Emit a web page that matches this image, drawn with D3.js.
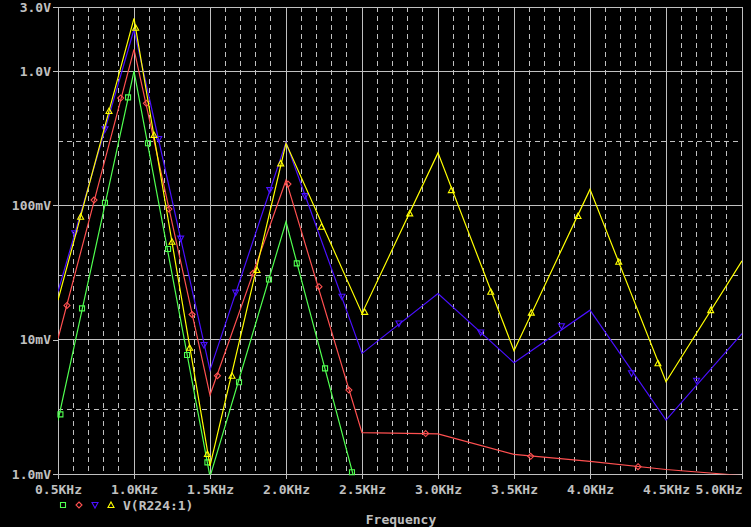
<!DOCTYPE html>
<html>
<head>
<meta charset="utf-8">
<script src="https://cdn.jsdelivr.net/npm/d3@7"></script>
<style>
  html, body { margin: 0; padding: 0; background: #000; }
  svg { display: block; }
  text { font-family: "DejaVu Sans Mono", monospace; font-weight: bold; font-size: 13px; fill: #c0c0c0; }
</style>
</head>
<body>
<svg id="chart" width="751" height="527"></svg>
<script>
// ---- data (frequency in kHz, voltage in mV) ----
const freqs = [0.5, 1.0, 1.5, 2.0, 2.5, 3.0, 3.5, 4.0, 4.5, 5.0];
const greenV  = [2.5, 1000, 0.955, 75.5, 0.556, null, null, null, null, null];
const redV    = [10.2, 1450, 3.87, 154, 2.03, 1.99, 1.40, 1.24, 1.08, 0.975];
const blueV   = [22.8, 2040, 5.94, 295, 7.91, 22.1, 6.74, 16.6, 2.52, 11.1];
const yellowV = [19.7, 2470, 1.15, 290, 15.7, 246, 8.28, 131.6, 4.86, 38.7];

const greenMarkF  = [0.516, 0.658, 0.809, 0.961, 1.092, 1.224, 1.349, 1.483, 1.691, 1.888, 2.071, 2.257, 2.434];
const greenMarkV  = [2.78, 17.1, 104.6, 637, 290, 47.3, 7.69, 1.22, 4.82, 28.1, 37.0, 6.12, 1.03];
const redMarkF    = [0.559, 0.737, 0.9125, 1.0816, 1.230, 1.382, 1.549, 1.783, 2.013, 2.217, 2.414, 2.919, 3.61, 4.316];
const redMarkV    = [18.0, 109.6, 630, 575, 93.9, 15.4, 5.39, 31.2, 144, 24.8, 4.22, 2.0, 1.355, 1.133];
const blueMarkF   = [0.610, 0.809, 1.1625, 1.307, 1.4605, 1.669, 1.893, 2.125, 2.368, 2.743, 3.281, 3.8125, 4.273, 4.701];
const blueMarkV   = [61.9, 368, 312, 56.6, 9.12, 22.4, 130, 117.3, 20.9, 13.2, 11.3, 12.6, 5.62, 4.95];
const yellowMarkF = [0.649, 0.8355, 1.011, 1.1316, 1.25, 1.366, 1.483, 1.6447, 1.809, 1.965, 2.233, 2.518, 2.814, 3.088, 3.347, 3.614, 3.921, 4.189, 4.447, 4.794];
const yellowMarkV = [82.3, 504, 2100, 334, 53.6, 8.71, 1.41, 5.39, 33.0, 205.5, 69.3, 16.1, 87.2, 130, 22.75, 15.9, 83.3, 38.0, 6.67, 16.6];

const xTicks = [0.5, 1.0, 1.5, 2.0, 2.5, 3.0, 3.5, 4.0, 4.5, 5.0];
const xTickLabels = ["0.5KHz", "1.0KHz", "1.5KHz", "2.0KHz", "2.5KHz", "3.0KHz", "3.5KHz", "4.0KHz", "4.5KHz", "5.0KHz"];
const yTicks = [1, 10, 100, 1000, 3000];
const yTickLabels = ["1.0mV", "10mV", "100mV", "1.0V", "3.0V"];
const yMinor = [3, 30, 300];
const legendLabel = "V(R224:1)";
const xTitle = "Frequency";

// ---- layout ----
const L = 58, R = 742, T = 7, B = 474;
const GRID = "#c0c0c0";
const COLORS = { green: "#50ff50", red: "#ff5050", blue: "#4a10ff", yellow: "#ffff00" };

const svg = d3.select("#chart");
svg.append("rect").attr("width", 751).attr("height", 527).attr("fill", "#000");

const x = d3.scaleLinear().domain([0.5, 5.0]).range([L, R]);
const y = d3.scaleLog().domain([1, 3000]).range([B, T]);

// minor x grid (every 0.1 kHz, dashed)
const xMinor = d3.range(5, 50).map(i => i / 10).filter(v => Math.abs(v * 2 - Math.round(v * 2)) > 1e-6);
const grid = svg.append("g");
grid.selectAll(".vx").data(xMinor).enter().append("line")
  .attr("x1", d => x(d)).attr("x2", d => x(d)).attr("y1", T).attr("y2", B)
  .attr("stroke", GRID).attr("stroke-width", 1).attr("stroke-dasharray", "5,4")
  .attr("shape-rendering", "crispEdges");
grid.selectAll(".hy").data(yMinor).enter().append("line")
  .attr("x1", L).attr("x2", R).attr("y1", d => y(d)).attr("y2", d => y(d))
  .attr("stroke", GRID).attr("stroke-width", 1).attr("stroke-dasharray", "5,4")
  .attr("shape-rendering", "crispEdges");
// major grid
grid.selectAll(".vX").data(xTicks).enter().append("line")
  .attr("x1", d => x(d)).attr("x2", d => x(d)).attr("y1", T).attr("y2", B)
  .attr("stroke", GRID).attr("stroke-width", 1).attr("shape-rendering", "crispEdges");
grid.selectAll(".hY").data(yTicks).enter().append("line")
  .attr("x1", L).attr("x2", R).attr("y1", d => y(d)).attr("y2", d => y(d))
  .attr("stroke", GRID).attr("stroke-width", 1).attr("shape-rendering", "crispEdges");

// axes
const yAxis = d3.axisLeft(y).tickValues(yTicks)
  .tickFormat((d, i) => yTickLabels[i]).tickSize(5).tickPadding(2);
const gy = svg.append("g").attr("transform", `translate(${L},0)`).call(yAxis);
gy.select(".domain").remove();
gy.selectAll(".tick line").attr("stroke", GRID).attr("shape-rendering", "crispEdges");
gy.selectAll(".tick text").attr("fill", GRID).style("font-family", '"DejaVu Sans Mono", monospace')
  .style("font-size", "13px").style("font-weight", "bold");

const xAxis = d3.axisBottom(x).tickValues(xTicks)
  .tickFormat((d, i) => xTickLabels[i]).tickSize(5).tickPadding(6);
const gx = svg.append("g").attr("transform", `translate(0,${B})`).call(xAxis);
gx.select(".domain").remove();
gx.selectAll(".tick line").attr("stroke", GRID).attr("shape-rendering", "crispEdges");
gx.selectAll(".tick text").attr("fill", GRID).style("font-family", '"DejaVu Sans Mono", monospace')
  .style("font-size", "13px").style("font-weight", "bold");
gx.selectAll(".tick text").filter((d, i) => i === xTicks.length - 1).attr("text-anchor", "end");

// clip
svg.append("clipPath").attr("id", "plotclip").append("rect")
  .attr("x", L).attr("y", T).attr("width", R - L).attr("height", B - T + 0.5);

// traces
const series = [
  { key: "green",  vals: greenV,  mf: greenMarkF,  mv: greenMarkV,  sym: "square" },
  { key: "red",    vals: redV,    mf: redMarkF,    mv: redMarkV,    sym: "diamond" },
  { key: "blue",   vals: blueV,   mf: blueMarkF,   mv: blueMarkV,   sym: "down" },
  { key: "yellow", vals: yellowV, mf: yellowMarkF, mv: yellowMarkV, sym: "up" }
];

function symPath(sym) {
  if (sym === "square")  return "M-2.5,-2.5H2.5V2.5H-2.5Z";
  if (sym === "diamond") return "M0,-3L3,0L0,3L-3,0Z";
  if (sym === "down")    return "M-3,-2.5H3L0,3Z";
  return "M0,-3L3,2.5H-3Z";
}

const line = d3.line()
  .defined(d => d.v != null)
  .x(d => x(d.f)).y(d => y(d.v));

const traces = svg.append("g");
series.forEach(s => {
  const pts = freqs.map((f, i) => ({ f: f, v: s.vals[i] }));
  traces.append("path").datum(pts)
    .attr("d", line).attr("fill", "none")
    .attr("stroke", COLORS[s.key]).attr("stroke-width", 1.2)
    .attr("clip-path", "url(#plotclip)");
  const mpts = s.mf.map((f, i) => ({ f: f, v: s.mv[i] }));
  traces.selectAll(null).data(mpts).enter().append("path")
    .attr("transform", d => `translate(${x(d.f)},${y(d.v)})`)
    .attr("d", symPath(s.sym))
    .attr("fill", "none").attr("stroke", COLORS[s.key]).attr("stroke-width", 1.1);
});

// legend
const lg = svg.append("g");
series.forEach((s, i) => {
  lg.append("path").attr("transform", `translate(${63 + i * 16},505)`)
    .attr("d", symPath(s.sym)).attr("fill", "none")
    .attr("stroke", COLORS[s.key]).attr("stroke-width", 1.1);
});
lg.append("text").attr("x", 123).attr("y", 510).text(legendLabel);

// x title
svg.append("text").attr("x", 401).attr("y", 523.5).attr("text-anchor", "middle").text(xTitle);
</script>
</body>
</html>
